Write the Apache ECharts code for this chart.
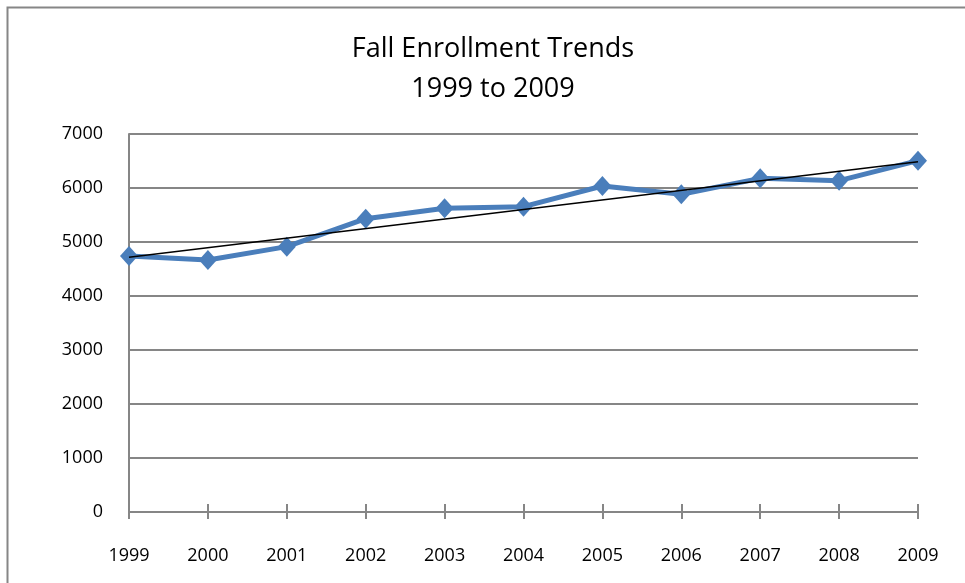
<!DOCTYPE html>
<html>
<head>
<meta charset="utf-8">
<script src="https://cdn.jsdelivr.net/npm/echarts@6/dist/echarts.min.js"></script>
<style>
html,body{margin:0;padding:0;background:#fff;}
#chart{width:965px;height:583px;}
</style>
</head>
<body>
<div id="chart"></div>
<script>
const years = ['1999','2000','2001','2002','2003','2004','2005','2006','2007','2008','2009'];
const enrollment = [4740, 4667, 4914, 5432, 5624, 5654, 6037, 5883, 6179, 6136, 6506];
// linear trendline (start and end)
const trendStart = 4716;
const trendEnd = 6487;
const yTicks = [0, 1000, 2000, 3000, 4000, 5000, 6000, 7000];

const trend = years.map((y, i) => i === 0 ? trendStart : (i === years.length - 1 ? trendEnd : null));

const chart = echarts.init(document.getElementById('chart'));
const font = '"Open Sans", sans-serif';
chart.setOption({
  animation: false,
  backgroundColor: '#fff',
  title: {
    text: 'Fall Enrollment Trends\n1999 to 2009',
    left: 493,
    top: 29,
    padding: 0,
    textAlign: 'center',
    textStyle: { fontFamily: font, fontSize: 27, fontWeight: 'normal', color: '#000', lineHeight: 40 }
  },
  graphic: [{
    type: 'rect',
    shape: { x: 7.5, y: 7.5, width: 1000, height: 600 },
    style: { fill: 'none', stroke: '#868686', lineWidth: 2 },
    silent: true
  }],
  grid: { left: 129, right: 47, top: 134, bottom: 71 },
  xAxis: [{
    type: 'category',
    data: years,
    boundaryGap: false,
    axisLine: { lineStyle: { color: '#868686', width: 2 } },
    axisTick: { show: true, length: 7, lineStyle: { color: '#868686', width: 2 } },
    axisLabel: { fontFamily: font, fontSize: 18, color: '#000', margin: 35 },
    splitLine: { show: false }
  }, {
    type: 'category',
    data: years,
    position: 'bottom',
    boundaryGap: false,
    axisLine: { show: false },
    axisTick: { show: true, inside: true, length: 8, lineStyle: { color: '#868686', width: 2 } },
    axisLabel: { show: false },
    splitLine: { show: false }
  }],
  yAxis: {
    type: 'value',
    min: yTicks[0],
    max: yTicks[yTicks.length - 1],
    interval: 1000,
    axisLine: { show: true, lineStyle: { color: '#868686', width: 2 } },
    axisTick: { show: false },
    axisLabel: { fontFamily: font, fontSize: 18, color: '#000', margin: 26, formatter: v => String(v) },
    splitLine: { lineStyle: { color: '#868686', width: 2 } }
  },
  series: [{
    type: 'line',
    data: enrollment,
    symbol: 'diamond',
    symbolSize: [18, 20],
    lineStyle: { color: '#4A7EBB', width: 5 },
    itemStyle: { color: '#4A7EBB' },
    z: 2
  }, {
    type: 'line',
    data: trend,
    connectNulls: true,
    showSymbol: false,
    symbol: 'none',
    lineStyle: { color: '#000', width: 1.5 },
    z: 3
  }]
});
</script>
</body>
</html>
